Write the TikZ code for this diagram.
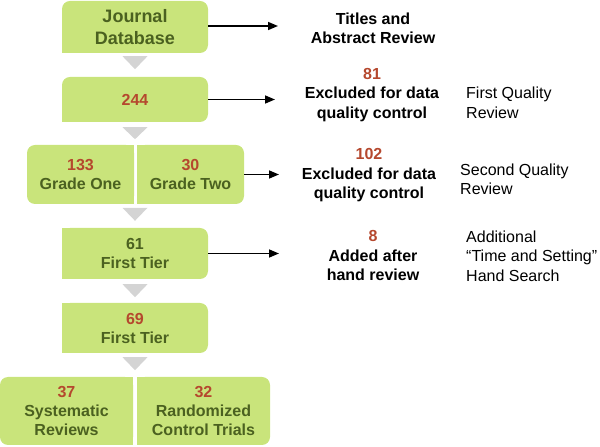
\documentclass[tikz,border=0pt]{standalone}
\usepackage{fontspec}
\setmainfont{Liberation Sans}
\usetikzlibrary{arrows.meta,calc}
\definecolor{boxgreen}{HTML}{C9E47B}
\definecolor{txtgreen}{HTML}{4B6120}
\definecolor{numred}{HTML}{B5482E}
\definecolor{trigray}{HTML}{D4D4D4}
\tikzset{
  box/.style={fill=boxgreen, rounded corners=8pt, inner sep=0pt, align=center,
    text=txtgreen, font=\bfseries\fontsize{16}{19}\selectfont},
  rtext/.style={align=center, inner sep=0pt, font=\bfseries\fontsize{16}{19.5}\selectfont},
  qtext/.style={align=left, anchor=west, inner sep=0pt, font=\fontsize{16}{19.5}\selectfont},
  arr/.style={line width=1.5pt, -{Triangle[length=10pt,width=8pt]}},
  tri/.style={fill=trigray},
}
\newcommand{\num}[1]{\textcolor{numred}{#1}}
\begin{document}
\begin{tikzpicture}[x=1pt,y=1pt]
\useasboundingbox (0,0) rectangle (600,447);
% boxes
\node[box, minimum width=146pt, minimum height=52pt,
  font=\bfseries\fontsize{18}{22}\selectfont] (jd) at (135,420) {Journal\\Database};
\node[box, minimum width=146pt, minimum height=45pt] (b244) at (135,347.5) {\num{244}};
\node[box, minimum width=107pt, minimum height=59pt] (g1) at (80.5,272.5) {\num{133}\\Grade One};
\node[box, minimum width=107pt, minimum height=59pt] (g2) at (190.5,272.5) {\num{30}\\Grade Two};
\node[box, minimum width=146pt, minimum height=51pt] (b61) at (135,193.5) {61\\First Tier};
\node[box, minimum width=146pt, minimum height=50pt] (b69) at (135,119) {\num{69}\\First Tier};
\node[box, minimum width=133pt, minimum height=68pt] (sr) at (66.5,36) {\num{37}\\Systematic\\Reviews};
\node[box, minimum width=133pt, minimum height=68pt] (rc) at (203.5,36) {\num{32}\\Randomized\\Control Trials};
% square corners
\fill[boxgreen] (jd.south west) rectangle ++(9,9);
\fill[boxgreen] (b244.south west) rectangle ++(9,9);
\fill[boxgreen] (g1.south east) rectangle ++(-9,9);
\fill[boxgreen] (g1.north east) rectangle ++(-9,-9);
\fill[boxgreen] (g2.south west) rectangle ++(9,9);
\fill[boxgreen] (g2.north west) rectangle ++(9,-9);
\fill[boxgreen] (b61.south west) rectangle ++(9,9);
\fill[boxgreen] (b61.north west) rectangle ++(9,-9);
\fill[boxgreen] (b69.south west) rectangle ++(9,9);
\fill[boxgreen] (b69.north west) rectangle ++(9,-9);
\fill[boxgreen] (sr.south east) rectangle ++(-9,9);
\fill[boxgreen] (sr.north east) rectangle ++(-9,-9);
\fill[boxgreen] (rc.south west) rectangle ++(9,9);
\fill[boxgreen] (rc.north west) rectangle ++(9,-9);
% triangles
\fill[tri] ($(jd.south)+(-12.5,-3)$) -- ++(25,0) -- ($(jd.south)+(0,-16)$) -- cycle;
\fill[tri] ($(b244.south)+(-12.5,-5)$) -- ++(25,0) -- ($(b244.south)+(0,-17)$) -- cycle;
\fill[tri] ($(b61.north)+(-12.5,20)$) -- ++(25,0) -- ($(b61.north)+(0,7)$) -- cycle;
\fill[tri] ($(b61.south)+(-12.5,-5)$) -- ++(25,0) -- ($(b61.south)+(0,-18)$) -- cycle;
\fill[tri] ($(b69.south)+(-12.5,-4)$) -- ++(25,0) -- ($(b69.south)+(0,-17)$) -- cycle;
% right texts
\node[rtext] (t1) at (373,418.5) {Titles and\\Abstract Review};
\node[rtext] (t2) at (372,352) {\num{81}\\Excluded for data\\quality control};
\node[rtext] (t3) at (369,271.5) {\num{102}\\Excluded for data\\quality control};
\node[rtext] (t4) at (373,191.5) {\num{8}\\Added after\\hand review};
\node[qtext] (q1) at (466,344) {First Quality\\Review};
\node[qtext] (q2) at (460,267.5) {Second Quality\\Review};
\node[qtext] (q3) at (466,191) {Additional\\“Time and Setting”\\Hand Search};
% arrows
\coordinate (a1) at (278,421);
\coordinate (a2) at (275,347.5);
\coordinate (a3) at (279,272.5);
\coordinate (a4) at (279,193.5);
\draw[arr] (jd.east |- a1) -- (a1);
\draw[arr] (b244.east) -- (a2);
\draw[arr] (g2.east) -- (a3);
\draw[arr] (b61.east) -- (a4);
\end{tikzpicture}
\end{document}
